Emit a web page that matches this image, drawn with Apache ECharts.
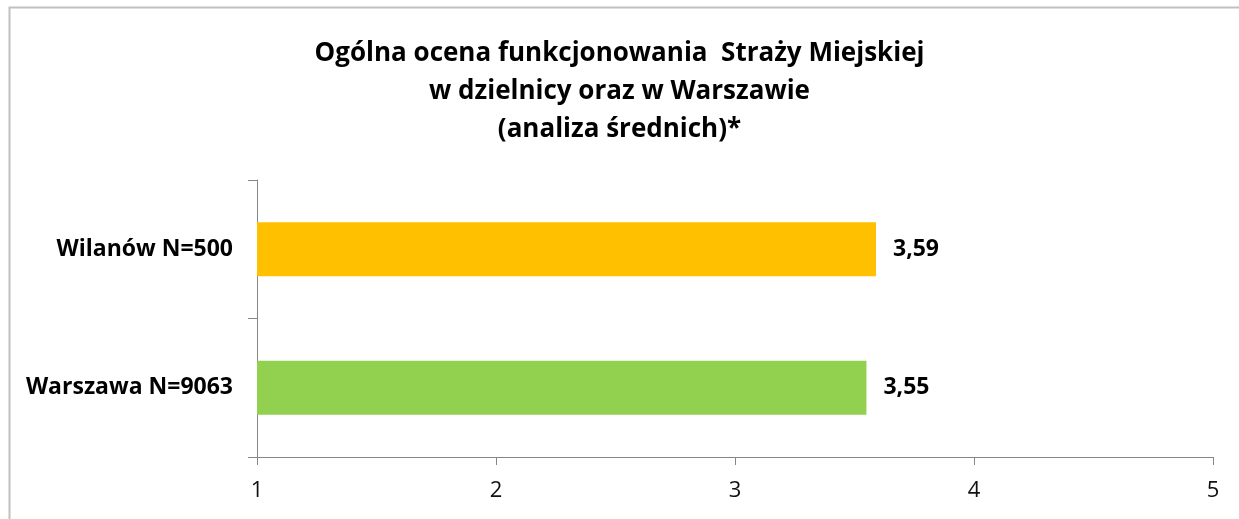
<!DOCTYPE html>
<html>
<head>
<meta charset="utf-8">
<script src="https://cdn.jsdelivr.net/npm/echarts@6/dist/echarts.min.js"></script>
<style>
  html, body { margin: 0; padding: 0; background: #fff; }
  #chart { width: 1239px; height: 519px; }
</style>
</head>
<body>
<div id="chart"></div>
<script>
// dane z wykresu
const categories = ['Wilanów N=500', 'Warszawa N=9063'];
const values = [3.59, 3.55];
const barColors = ['#FFC000', '#92D050'];
const axisTicks = [1, 2, 3, 4, 5];

const chart = echarts.init(document.getElementById('chart'), null, { renderer: 'canvas' });

const option = {
  backgroundColor: '#fff',
  animation: false,
  title: {
    text: 'Ogólna ocena funkcjonowania  Straży Miejskiej\nw dzielnicy oraz w Warszawie\n(analiza średnich)*',
    left: 'center',
    top: 30,
    textStyle: {
      fontFamily: 'Open Sans',
      fontWeight: 'bold',
      fontSize: 26,
      lineHeight: 38,
      color: '#000'
    }
  },
  graphic: [{
    type: 'rect',
    shape: { x: 9.5, y: 7.5, width: 1300, height: 600 },
    style: { fill: 'none', stroke: '#c0c0c0', lineWidth: 2 },
    silent: true
  }],
  grid: { left: 257, right: 26, top: 180, bottom: 62 },
  xAxis: {
    type: 'value',
    min: axisTicks[0],
    max: axisTicks[axisTicks.length - 1],
    interval: 1,
    axisLine: { show: true, lineStyle: { color: '#868686', width: 1 } },
    axisTick: { show: true, length: 8, lineStyle: { color: '#868686' } },
    splitLine: { show: false },
    axisLabel: {
      margin: 23,
      fontFamily: 'Open Sans',
      fontSize: 22,
      color: '#111',
      formatter: v => String(v)
    }
  },
  yAxis: {
    type: 'category',
    data: categories,
    inverse: true,
    axisLine: { show: true, lineStyle: { color: '#868686', width: 1 } },
    axisTick: { show: true, length: 9, lineStyle: { color: '#868686' } },
    axisLabel: {
      margin: 24,
      fontFamily: 'Open Sans',
      fontWeight: 'bold',
      fontSize: 23,
      color: '#000'
    }
  },
  series: [{
    type: 'bar',
    data: values.map((v, i) => ({ value: v, itemStyle: { color: barColors[i] } })),
    barWidth: 54,
    label: {
      show: true,
      position: 'right',
      distance: 17,
      fontFamily: 'Open Sans',
      fontWeight: 'bold',
      fontSize: 23,
      color: '#000',
      formatter: p => p.value.toFixed(2).replace('.', ',')
    }
  }]
};

chart.setOption(option);
</script>
</body>
</html>
